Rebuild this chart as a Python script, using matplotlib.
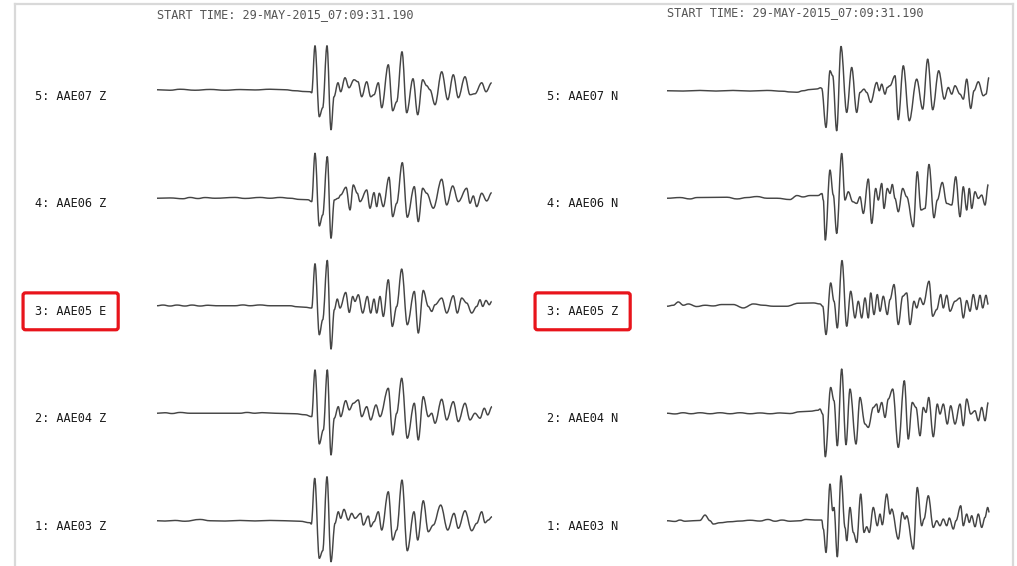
import numpy as np
import matplotlib
matplotlib.use("Agg")
import matplotlib.pyplot as plt
from matplotlib.lines import Line2D
from matplotlib.path import Path
from matplotlib.patches import PathPatch
from matplotlib.transforms import blended_transform_factory

START_TIME = "START TIME: 29-MAY-2015_07:09:31.190"
SPS = 5.0        # digitised samples per second
WINDOW = 67.0    # seconds shown per trace

left_labels = ["5: AAE07 Z", "4: AAE06 Z", "3: AAE05 E", "2: AAE04 Z", "1: AAE03 Z"]
right_labels = ["5: AAE07 N", "4: AAE06 N", "3: AAE05 Z", "2: AAE04 N", "1: AAE03 N"]
highlight = ["3: AAE05 E", "3: AAE05 Z"]

# ---- left column: sample index / amplitude of the turning points ----
aae07_z_s = [0, 13, 23, 38, 53, 68, 83, 98, 113, 128, 138, 148, 153,
             154.7, 158, 162.3, 165.7, 170, 174, 177, 181, 183.7, 188,
             192, 197, 201, 204.7, 209.7, 213.7, 217, 221.3, 224.7, 231.3,
             235.7, 239.7, 245, 249.7, 256, 260.7, 265.7, 269.7, 273, 278,
             284.7, 290.7, 296.3, 301.3, 308, 313, 318, 324.7, 329, 334.7]
aae07_z_a = [1, 0.5, 1.5, 0.5, 1.3, 0.5, 1.2, 0.8, 1.5, 1, 0, -0.8, -1,
             -2, 45, -26, -17, 45, -39, -6, 8, -1, 13,
             3, 11, 9, -6, 9, -6, -4, 8, -17, 26,
             -20, -11, 39, -22, 12, -24, 11, 5, 1, -14,
             19, -9, 16, -7, 14, -4, -3, 8, -1, 8]

aae06_z_s = [0, 13, 26, 33, 41, 48, 58, 78, 88, 103, 113, 123, 133, 143, 151,
             154.7, 158, 162.3, 165.7, 170.3, 174, 177.3, 181.3, 183.7, 189,
             193, 196.3, 200.3, 203, 209.7, 213, 217, 219.7, 222.3, 226.3,
             232, 235.7, 239.7, 245.3, 250.3, 257.3, 261.3, 265.7, 269.7, 276.3,
             284.7, 289.7, 295.7, 301.3, 309.7, 313, 316.3, 319.7, 324.7, 329.7, 334.7]
aae06_z_a = [0, 0.3, -0.5, 0.8, -0.3, 0.7, 0, 0.8, -0.2, 0.8, 0, 0.8, 0, -1.2, -1.5,
             -3.4, 45, -27.7, -16.7, 41.6, -40, -1.7, 0, 3.3, 11,
             -11.7, 13.3, 5, -3.4, 8.3, -10, 5.6, -8.4, 5, -8.4,
             21, -18.4, -5, 35.6, -19, 11.6, -23.4, 10, 5, -10,
             19, -6.7, 12.3, -3.4, 10, -5, 2.3, -8.4, 5, -2.7, 5.6]

aae05_e_s = [0, 6, 13, 20, 28, 35, 43, 51, 59, 78, 86, 93, 103, 113, 133, 140, 148,
             154.7, 158, 162.3, 165.7, 170.3, 174, 177.3, 180.3, 183, 188.7,
             192.3, 195.7, 198, 201.3, 205.7, 210.3, 213.7, 217, 219.7, 223,
             226.3, 231.3, 235.3, 239.7, 244.7, 250.3, 257.3, 261.3, 266.3, 271.3,
             274.7, 278, 284.7, 289.7, 296.3, 300.3, 304.7, 309.7, 314.7, 319.7,
             323, 325.7, 329, 332.3, 334.7]
aae05_e_a = [0, 0.7, -0.3, 0.7, -0.3, 0.7, -0.3, 0.5, 0, 0, 0.8, 0, 0.8, 0, 0, -1, -1.5,
             -2.3, 42, -29, -14, 45.3, -43.3, -4, 6.7, -2.3, 13.3,
             -6.7, 9.3, 4.3, 11, -7.3, 9.3, -7.3, 6.7, -7.3, 9.3,
             -10.7, 26, -20.7, -0.7, 36.7, -19, 14.3, -27.3, 15.3, -0.7,
             -5.7, 1, 7.7, -7.3, 10, -7.3, 7.7, 2.7, -7.3, -0.7,
             6, -0.7, 5.3, 1, 4.3]

aae04_z_s = [0, 8, 15, 23, 33, 83, 90, 98, 105, 118, 138, 148,
             154.7, 158, 162.3, 166.3, 170.3, 174, 177.3, 181.3, 183.7, 188.7,
             192.3, 196.3, 201.3, 204.7, 209.7, 213.7, 219, 223, 231.3, 235.7,
             239.7, 244.7, 250.3, 257.3, 261.3, 266.3, 271.3, 274.7, 278, 284.7,
             289.7, 296.3, 301.3, 308, 313, 318, 323, 327.3, 330.7, 335]
aae04_z_a = [0, 0.5, -0.3, 0.8, 0, 0, 0.8, 0, 0.6, 0, -0.5, -1.5,
             -3.4, 43.3, -30.7, -16.7, 43.3, -41.7, -5, 6.6, -3.4, 12.6,
             3.3, 10, 13.3, -3.4, 6.6, -6.7, 8.3, -3.4, 25, -21.7,
             0, 35, -25, 10, -26.7, 16.6, -3.4, 0, -10, 14,
             -6.7, 11.6, -8.4, 10, -6.7, 0, -5, 5, -1.7, 6.6]

aae03_z_s = [0, 8, 18, 28, 43, 53, 68, 83, 98, 113, 128, 143, 153,
             154.3, 157.7, 162.3, 165.7, 170, 174, 178, 181.3, 183.7, 187,
             191.3, 194.7, 198, 203.7, 206.3, 211.3, 213.7, 217, 221.3, 224.7,
             231.3, 235.7, 239.7, 245, 250.3, 257, 260.7, 266.3, 271.3, 276.3,
             283.7, 290.7, 297, 301.3, 308, 314.7, 319.7, 324.7, 328, 331.3, 335]
aae03_z_a = [0, -0.3, 0.3, -0.5, 1.3, 0, -0.3, 0.3, -0.2, 0.3, 0, -0.5, -2,
             -3.3, 42.4, -37.6, -30, 44, -41, -2.6, 9, 2.4, 11.4,
             0.7, 7.4, 2.4, 7.4, -4.3, 4.7, -6, -1, 9, -9.3,
             29, -19.3, -9.3, 40.7, -30, 9, -19.3, 20, -11, -4.3,
             15.7, -9.3, 7.4, -7.6, 10, -10, -2.6, 9, -2, 0.7, 4]

# ---- right column ----
aae07_n_s = [0, 16, 33, 49, 66, 83, 100, 116, 123, 130, 136, 143, 150, 153.7,
             154.7, 159, 163, 165.7, 169.7, 174, 179.7, 184.7, 189.7, 193,
             197, 199.7, 203.7, 209.7, 212.3, 214.7, 218, 220.3, 223, 228,
             231.3, 236.3, 242.3, 249.7, 255.7, 260.7, 265.7, 271.7, 277.3, 281.3,
             284.7, 288, 293, 296.3, 299.7, 303.7, 307, 311.3, 316.3, 319, 322]
aae07_n_a = [0, -0.3, 0.3, -0.3, 0.3, -0.3, 0.3, -0.5, -1.2, -1.5, 0, 1.2, 1.8, 3,
             2.3, -36.7, 20, 15, -40, 44.3, -21.7, 23.3, -21.7, -1.7,
             1.6, -1.7, -11.7, 8.3, 0, 6.6, -3.4, 3.3, 5, 15,
             -29, 25, -30, 11.6, -18.4, 31.6, -19, 20, -8.4, 3.3,
             -3.4, 5, -3.4, -8.4, 11.6, -17.7, 0, 9, -5, -3.4, 13.3]

aae06_n_s = [0, 13, 23, 30, 60, 70, 80, 90, 100, 110, 123, 130, 136, 143, 151, 155,
             156.3, 158.3, 163, 166.3, 169.7, 174.7, 178, 181.3, 185.7, 189.7,
             193, 196.3, 201.3, 204.7, 208.7, 211.3, 214.7, 217, 220.3, 223,
             225.3, 228, 231.3, 235.7, 239.7, 246.3, 250.3, 254, 258, 262,
             267, 270.3, 275.3, 279.7, 284.7, 288.7, 293, 296.3, 299.7, 302.3,
             304.7, 308, 311.3, 314.7, 318, 321.3]
aae06_n_a = [0, 0.7, -0.7, 0.7, 1, -0.7, 0.7, 1.7, 0, 0, -1.3, 2.7, 1.3, 2.7, 2.7, 4.7,
             -1.8, -41.8, 28.2, 3.2, -35.2, 44.8, -1.8, 6.5, -3.5, -5.2,
             1.5, -15.2, 19.2, -25.2, 9.8, -1.8, 14.8, -10.2, 9.8, 4.8,
             13.8, -0.2, -13.5, 9.8, 1.5, -28.5, 26.5, -11.8, -10.2, 33.8,
             -19.5, -1.8, 15.8, -5.2, -6.8, 21.5, -18.5, 11.5, -11.8, 9.8,
             -10.2, 6.5, -0.2, 3.2, -6.8, 13.8]

aae05_z_s = [0, 6.3, 11.3, 16.3, 21.3, 29.7, 38, 46.3, 54.7, 66.3, 76.3, 86.3,
             96.3, 106.3, 119.7, 131.3, 146.3, 153,
             155.7, 159, 163.7, 167, 170.3, 175, 179.7, 183.7, 188, 191.3,
             194.7, 198, 201.3, 203.7, 207, 210.3, 213, 216.3, 220.3, 223,
             227, 231.3, 235.7, 239.7, 243, 247, 249.7, 253, 256.3, 262,
             265.7, 269.7, 273.7, 276.3, 279.7, 283, 288, 293, 296.3, 299.7,
             303, 306.3, 309.7, 313, 315.7, 319, 321.3]
aae05_z_a = [-0.5, 0.5, 3.8, 0.5, 1.8, -0.8, 0.5, -0.2, 1.2, 1.2, -2.2, 1.8,
             0.5, -0.5, -0.5, 2.5, 2.8, 1.8,
             -0.5, -28.8, 22.8, 4.5, -22.2, 45.2, -20.5, 14.5, -12.2, 4.5,
             -12.2, 7.8, -12.2, 12.8, -8.8, 11.2, -5.5, 9.5, -8.8, 6.2,
             21.2, -18.8, 9.5, 12.8, -18.8, 4.5, -2.2, 7.8, 1.2, 24.5,
             -10.5, -3.8, 11.2, -2.2, 10.5, -5.5, 4.5, 7.8, -12.2, 5.2,
             -5.5, 11.2, -3.8, 10.5, -2.2, 10.5, 1.2]

aae04_n_s = [0, 8, 16, 24, 33, 43, 53, 63, 73, 83, 93, 103, 113, 123, 133, 143, 151, 153,
             155.7, 158.3, 163.7, 167, 170.3, 174.7, 179, 183, 189, 193,
             198, 201.3, 206.3, 209.7, 211.3, 214.7, 218, 221.3, 225.7, 231.3,
             237.3, 241.3, 245.3, 249, 253, 256.3, 259, 261.7, 266.3, 270.3,
             273, 276.3, 280.3, 283.7, 288, 293, 296.3, 299.7, 303.7, 308,
             311.3, 314.7, 318, 321.3]
aae04_n_a = [0, -0.7, 0.5, -0.5, 0.5, -0.5, 0.5, -0.5, 0.5, -0.5, 0.3, -0.5, 0.3, -0.3, 1.5, 2, 3, 4.2,
             -0.8, -43.5, 25.8, 12.5, -32.5, 44.2, -31.5, 24.2, -30.8, 15.8,
             -10.8, -14.2, 5.8, 9.2, 0.8, 10.8, -4.2, 14.2, 24.2, -34.2,
             32.5, -25.8, 10.8, 5.8, -22.5, 5.8, 0.8, 15.8, -23.5, 9.2,
             -0.8, 9.2, -10.8, 7.5, -10.8, 9.2, -12.5, 14.2, -0.8, 2.5,
             -7.5, 5.8, -7.5, 10.8]

aae03_n_s = [0, 8, 13, 18, 26, 33, 38, 43, 46.3, 53, 63, 73, 83, 93, 101, 108, 115,
             123, 133, 139, 148, 154.7,
             156.3, 159, 163, 165.7, 167, 170.3, 174, 178, 179.7, 183,
             186.3, 189.7, 193.7, 197, 199.7, 202.3, 206.3, 210.3, 213, 215.3,
             219.7, 223, 224.7, 231.3, 235.3, 238, 239.7, 246.3, 250.3, 254.7,
             257, 261.3, 266.3, 269.7, 273, 276.3, 279.7, 282.3, 286.3, 289,
             293.7, 296.3, 299.7, 302.3, 304.7, 308, 311.3, 314.7, 318, 320.7, 322.3]
aae03_n_a = [0, -0.7, 0.7, -0.5, 0, 0.3, 5.7, 0, -3.3, -2, -1, -0.3, 0.5, -0.3, 1.3, -0.5, 0.7,
             -0.5, 0, 1.3, 0.7, 0.7,
             -8.3, -31.7, 36.7, 10, 13.3, -36, 45, -6.7, -20, 13.3,
             -11.7, -21.7, 26.7, -11.7, -6, -11.7, 13.3, -5, 6.7, -4,
             26.7, 6.7, 11.7, -18.3, 8.3, 1.7, 5, -28.3, 33.3, -5,
             1.7, 25, -6.7, 0, -5, 1.7, -5, 2.7, -8.3, 0,
             15, -5, 6.7, -1.7, 5, -6, 6.7, -6.7, 3.3, 13.3, 8.3]

left_traces = [(aae07_z_s, aae07_z_a), (aae06_z_s, aae06_z_a), (aae05_e_s, aae05_e_a),
               (aae04_z_s, aae04_z_a), (aae03_z_s, aae03_z_a)]
right_traces = [(aae07_n_s, aae07_n_a), (aae06_n_s, aae06_n_a), (aae05_z_s, aae05_z_a),
                (aae04_n_s, aae04_n_a), (aae03_n_s, aae03_n_a)]

W, H = 1017, 566
GAIN = 1 / 107.5          # amplitude -> trace spacing units
YLIM = (0.579, 0.579 + H * GAIN)
MONO = "DejaVu Sans Mono"
TRACE_COLOR = "#454545"

fig = plt.figure(figsize=(W / 100, H / 100), dpi=100)
fig.patch.set_facecolor("white")


def wiggle_path(t, y, k=0.36):
    # smooth bezier through the turning points (flat tangent at each one)
    verts = [(t[0], y[0])]
    codes = [Path.MOVETO]
    for i in range(1, len(t)):
        d = t[i] - t[i - 1]
        verts += [(t[i - 1] + d * k, y[i - 1]), (t[i] - d * k, y[i]), (t[i], y[i])]
        codes += [Path.CURVE4] * 3
    return Path(verts, codes)


def draw_column(x0_px, x_label_px, traces, labels, title_y_px):
    ax = fig.add_axes([x0_px / W, 0, 335 / W, 1])
    ax.set_xlim(0, WINDOW)
    ax.set_ylim(*YLIM)
    ax.axis("off")
    n = len(traces)
    for i, (s, a) in enumerate(traces):
        level = n - i
        t = np.array(s) / SPS
        y = level + np.array(a) * GAIN
        ax.add_patch(PathPatch(wiggle_path(t, y), fc="none", ec=TRACE_COLOR,
                               lw=1.05, joinstyle="round", clip_on=False))
    trans = blended_transform_factory(fig.transFigure, ax.transData)
    for i, lab in enumerate(labels):
        level = n - i
        kw = {}
        if lab in highlight:
            kw["bbox"] = dict(boxstyle="round,pad=1.0,rounding_size=0.2",
                              fc="white", ec="#e8141b", lw=2.3)
        ax.text(x_label_px / W, level - 0.052, lab, transform=trans,
                ha="left", va="center", fontsize=8.6, family=MONO,
                color="#1a1a1a", **kw)
    fig.text(x0_px / W, 1 - title_y_px / H, START_TIME, ha="left", va="center",
             fontsize=8.6, family=MONO, color="#555555")
    return ax


draw_column(157, 35, left_traces, left_labels, 15)
draw_column(667, 547, right_traces, right_labels, 13)

# light grey frame of the original viewer window
frame_kw = dict(color="#d9d9d9", lw=1.6, transform=fig.transFigure)
fig.add_artist(Line2D([15 / W, 1013 / W], [1 - 4 / H, 1 - 4 / H], **frame_kw))
fig.add_artist(Line2D([15 / W, 15 / W], [0, 1 - 4 / H], **frame_kw))
fig.add_artist(Line2D([1013 / W, 1013 / W], [0, 1 - 4 / H], **frame_kw))

fig.savefig("out.png", dpi=100, facecolor="white")
